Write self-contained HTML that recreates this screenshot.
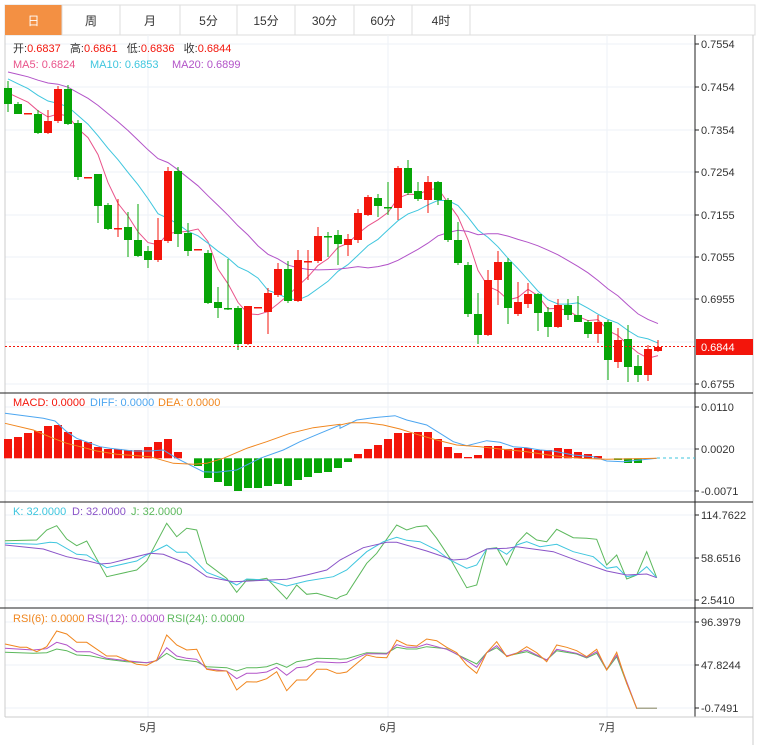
<!DOCTYPE html>
<html><head><meta charset="utf-8">
<style>
body{margin:0;background:#fff;width:759px;height:751px;overflow:hidden;font-family:"Liberation Sans","Noto Sans CJK SC",sans-serif;}
svg{position:absolute;left:0;top:0}
</style></head><body>
<svg id="s" width="759" height="751" xmlns="http://www.w3.org/2000/svg" font-family="Liberation Sans, Noto Sans CJK SC, sans-serif"></svg>
<script>
var C=[
[88,104,81,112,0],[104,114,102,114,0],[113,113,113,113,1],[114,133,110,134,0],[121,133,110,134,1],
[89,121,86,123,1],[89,124,85,125,0],[123,177,120,180,0],[177,177,177,177,1],[174,206,174,223,0],
[205,229,203,230,0],[228,228,199,237,1],[227,240,212,257,0],[240,256,204,257,0],[251,260,246,268,0],
[240,260,218,262,1],[171,241,167,243,1],[171,234,167,247,0],[233,251,223,256,0],[249,249,249,249,1],
[253,303,250,304,0],[302,308,287,318,0],[308,308,259,310,0],[308,344,306,350,0],[306,344,306,345,1],
[307,307,307,307,1],[293,312,288,334,1],[269,295,263,297,1],[269,301,261,303,0],[260,301,250,302,1],
[261,261,250,280,1],[236,261,227,263,1],[236,236,232,257,0],[235,244,230,265,0],[239,245,234,256,1],
[213,240,209,243,1],[197,215,195,216,1],[198,206,194,217,0],[207,207,182,215,0],[168,208,166,220,1],
[168,193,160,195,0],[191,199,182,201,0],[182,200,176,213,1],[182,200,181,205,0],[200,240,198,242,0],
[240,263,222,265,0],[265,314,262,317,0],[314,335,293,344,0],[280,335,270,336,1],[262,280,251,305,1],
[262,308,258,324,0],[302,314,282,316,1],[294,304,283,308,1],[294,313,293,331,0],[312,327,307,337,0],
[305,327,299,328,1],[305,315,299,320,0],[315,322,296,322,0],[322,334,320,338,0],[322,334,315,343,1],
[322,360,320,380,0],[340,362,328,368,1],[339,367,325,382,0],[366,375,355,382,0],[349,375,345,381,1],
[347,351,340,352,1]];
var RED='#f3150b',GRN='#07a507';
var o='';
function L(x1,y1,x2,y2,c,w,d){o+='<line x1="'+x1+'" y1="'+y1+'" x2="'+x2+'" y2="'+y2+'" stroke="'+c+'" stroke-width="'+(w||1)+'"'+(d?' stroke-dasharray="'+d+'"':'')+'/>';}
function T(x,y,t,c,s,a){o+='<text x="'+x+'" y="'+y+'" fill="'+c+'" font-size="'+(s||11)+'"'+(a?' text-anchor="'+a+'"':'')+'>'+t+'</text>';}
function P(pts,c){o+='<polyline fill="none" stroke="'+c+'" stroke-width="1" points="'+pts.join(' ')+'"/>';}
function Z(a,x0,y0){var r=[];for(var i=0;i<a.length;i+=2)r.push((x0+a[i]/3).toFixed(1)+','+(y0+a[i+1]/3).toFixed(1));return r;}
// tabs
var tabs=['日','周','月','5分','15分','30分','60分','4时'],tx=[5,62,120,180,237,295,354,412,470];
o+='<rect x="5" y="5" width="750" height="30" fill="#fff" stroke="#ddd"/>';
o+='<rect x="5" y="5" width="57" height="30" fill="#f39043"/>';
for(var i=0;i<8;i++){L(tx[i+1],5,tx[i+1],35,'#ddd');T((tx[i]+tx[i+1])/2,25,tabs[i],i==0?'#fff':'#333',12,'middle');}
// grids
var hg=[44,87,130,172,215,257,299,342,384,407,449,491,515,558,600,622,665,708];
hg.forEach(function(y){L(5,y,695,y,'#edf2f7');});
[148,388,607].forEach(function(x){L(x,35,x,717,'#edf2f7');});
L(5,35,5,717,'#ccc');L(695,35,695,717,'#222');L(753,35,753,745,'#ccc');
[393,502,608].forEach(function(y){L(0,y,753,y,'#222');});
L(5,717,753,717,'#ccc');
var pl=[[44,'0.7554'],[87,'0.7454'],[130,'0.7354'],[172,'0.7254'],[215,'0.7155'],[257,'0.7055'],[299,'0.6955'],[384,'0.6755'],
[407,'0.0110'],[449,'0.0020'],[491,'-0.0071'],[515,'114.7622'],[558,'58.6516'],[600,'2.5410'],[622,'96.3979'],[665,'47.8244'],[708,'-0.7491']];
pl.forEach(function(p){L(695,p[0],699,p[0],'#222');T(701,p[0]+4,p[1],'#333',11);});
var cl=C.map(function(c){return c[4]?c[0]:c[1];});
var pre=[];for(i=0;i<16;i++)pre.push(65);for(i=0;i<4;i++)pre.push(90);
var all=pre.concat(cl);
function ma(n){var r=[];for(var i=0;i<cl.length;i++){var s=0;for(var k=0;k<n;k++)s+=all[20+i-k];r.push(s/n);}return r;}
[[5,'#e9538a'],[10,'#3fc6de'],[20,'#b253c8']].forEach(function(m){var v=ma(m[0]);P(v.map(function(y,i){return (8+10*i)+','+y.toFixed(1);}),m[1]);});
C.forEach(function(c,i){var x=8+10*i,col=c[4]?RED:GRN;L(x,c[2],x,c[3],col);var h=Math.max(1.5,c[1]-c[0]);o+='<rect x="'+(x-4)+'" y="'+c[0]+'" width="8" height="'+h+'" fill="'+col+'"/>';});
L(5,346.5,695,346.5,'#f3150b',1,'2,2');
o+='<rect x="696" y="339" width="57" height="16" fill="#f3150b"/>';T(701,351,'0.6844','#fff',11);
// MACD bars (top y per candle)
var MB=[439,437,433,431,426,425,432,440,442,447,449,449,450,450,447,442,439,452,458,466,478,482,486,491,488,488,486,484,486,480,477,473,472,468,462,
454,449,445,439,433,433,432,432,439,447,453,457,455,446,446,449,448,448,450,450,448,449,452,454,456,459,460,463,463,459,458];
var z=458.3;
MB.forEach(function(t,i){var x=8+10*i;var h=t-z;if(Math.abs(h)<0.8)return;o+='<rect x="'+(x-4)+'" y="'+Math.min(t,z)+'" width="8" height="'+Math.abs(h)+'" fill="'+(h<0?RED:GRN)+'"/>';});
P(Z([15,55,130,70,165,78,200,110,230,130,300,155,330,160,400,168,450,168,490,165,530,190,610,230,650,232,710,225,780,190,850,165,900,140,960,115,1020,90],0,395).concat(Z([0,100,50,75,100,68,165,62,200,75,260,90,300,115,340,140,380,152,440,137,480,142,520,155,560,158,600,165,640,168,700,180,760,185,800,198,850,200,900,195,950,190],340,395)),'#4da6f0');
P(Z([15,85,100,105,160,130,200,145,260,160,290,168,350,178,450,185,520,205,580,208,620,205,670,190,740,160,800,140,870,115,940,98,1020,88],0,395).concat(Z([0,90,30,83,80,83,130,90,180,102,230,118,290,135,350,150,420,155,480,162,560,170,640,182,720,190,800,193,950,190],340,395)),'#f0861e');
L(657,458,695,458,'#3fc6de',1,'3,3');
// KDJ
P(Z([15,437,110,435,140,405,170,392,200,432,230,452,260,438,320,545,410,525,440,498,500,385,530,425,560,400,590,405,620,505,680,550,710,592,740,555,770,555,800,550,860,612,890,570,920,598,950,595,1010,612],0,395).concat(Z([0,605,20,598,80,505,110,475,170,390,200,405,230,395,260,392,290,430,330,490,380,578,410,570,440,462,470,458,500,510,530,445,560,413,590,435,620,440,650,403,700,428,740,430,770,433,800,510,830,480,860,552,890,540,920,470,950,548],340,395)),'#5cb85c');
P(Z([15,445,110,448,150,442,170,443,230,478,260,480,320,518,410,498,440,480,500,450,530,472,560,472,620,532,680,555,710,570,740,552,800,555,860,573,920,558,1000,545],0,395).concat(Z([0,535,20,525,80,470,130,440,170,427,200,436,240,440,290,465,330,495,380,520,410,510,440,462,470,460,500,478,530,450,560,440,600,455,650,448,700,470,760,485,800,520,830,515,860,545,890,540,920,515,950,548],340,395)),'#3fc6de');
P(Z([15,450,130,462,200,485,260,497,300,507,330,505,450,475,490,478,570,510,620,545,700,560,860,553,920,540,980,525],0,395).concat(Z([0,495,70,458,140,442,170,442,260,468,340,495,380,492,440,462,500,460,530,455,640,470,720,500,800,528,860,540,920,537,950,548],340,395)),'#8a54c8');
// RSI
P(Z([15,127,100,130,140,128,170,117,200,122,230,135,270,137,320,148,380,155,440,158,470,152,500,130,530,148,590,155,620,170,680,173,710,183,740,173,770,173,800,170,830,160,860,172,890,155,950,145,1010,146],0,610).concat(Z([0,148,20,146,80,128,140,130,170,112,200,117,230,117,260,110,320,116,350,133,410,162,440,128,470,113,500,138,560,125,620,150,650,122,710,132,740,144,770,130,800,180,830,140,860,220,890,295,950,295],340,610)),'#5cb85c');
P(Z([15,115,100,120,140,116,170,97,200,105,230,125,270,125,320,145,380,152,440,158,470,152,500,113,530,138,560,145,590,148,620,176,680,183,710,206,740,190,770,190,800,186,830,172,860,196,890,173,920,170,950,155,1010,158],0,610).concat(Z([0,158,20,157,80,131,140,132,170,104,200,112,230,112,260,102,320,118,350,132,410,172,440,128,470,107,500,138,560,120,620,150,650,118,710,130,740,142,770,125,800,178,830,135,860,215,890,295,950,295],340,610)),'#b253c8');
P(Z([15,102,60,112,80,112,110,125,140,110,170,63,200,72,230,97,260,97,320,138,350,138,410,163,440,166,470,150,500,75,530,105,560,120,590,118,620,178,650,183,680,183,710,240,740,215,770,216,800,206,830,185,860,242,890,210,920,210,950,178,980,178,1010,190],0,610).concat(Z([0,190,20,186,80,135,110,142,140,143,170,90,200,105,230,108,260,87,290,92,320,112,350,128,380,165,410,190,440,128,470,95,500,140,530,130,560,110,590,128,620,155,650,105,680,112,710,122,740,140,770,118,800,180,830,127,860,220,890,295,950,295],340,610)),'#f0861e');
o+='<line x1="637" y1="708.3" x2="657" y2="708.3" stroke="#a8a890" stroke-width="1.5"/>';
// legends
T(13,52,'开:<tspan fill="#f3150b">0.6837</tspan>  高:<tspan fill="#f3150b">0.6861</tspan>  低:<tspan fill="#f3150b">0.6836</tspan>  收:<tspan fill="#f3150b">0.6844</tspan>','#333',11);
o=o.replace(/  /g,'&#160;&#160;&#160;');
T(13,68,'MA5: 0.6824','#e9538a',11);T(90,68,'MA10: 0.6853','#3fc6de',11);T(172,68,'MA20: 0.6899','#b253c8',11);
T(13,406,'MACD: 0.0000','#f3150b',11);T(90,406,'DIFF: 0.0000','#4da6f0',11);T(158,406,'DEA: 0.0000','#f0861e',11);
T(13,515,'K: 32.0000','#3fc6de',11);T(72,515,'D: 32.0000','#8a54c8',11);T(131,515,'J: 32.0000','#5cb85c',11);
T(13,622,'RSI(6): 0.0000','#f0861e',11);T(87,622,'RSI(12): 0.0000','#b253c8',11);T(167,622,'RSI(24): 0.0000','#5cb85c',11);
T(148,731,'5月','#333',11,'middle');T(388,731,'6月','#333',11,'middle');T(607,731,'7月','#333',11,'middle');
document.getElementById('s').innerHTML=o;
</script>
</body></html>
